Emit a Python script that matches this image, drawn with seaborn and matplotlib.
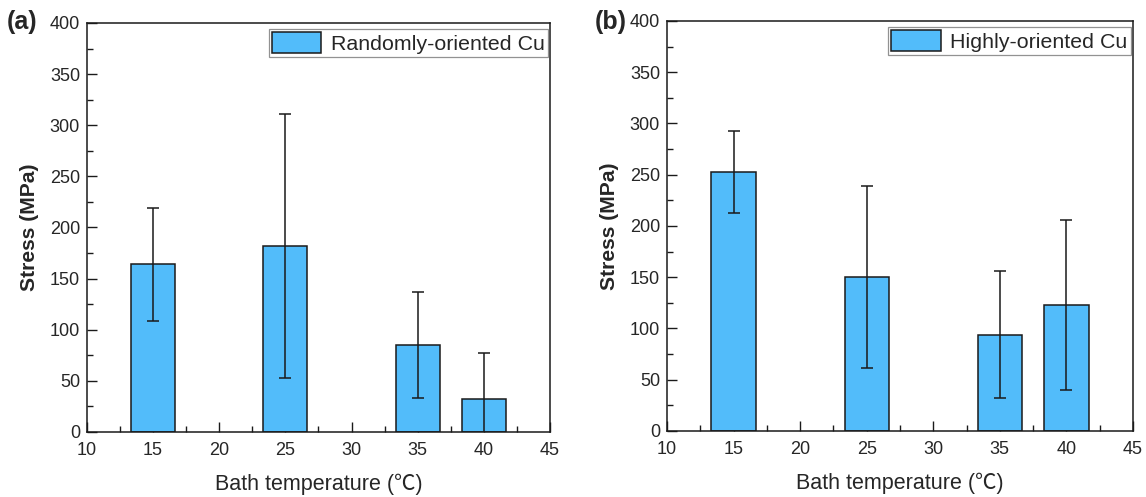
import numpy as np
import seaborn as sns
import matplotlib.pyplot as plt
from matplotlib.ticker import MultipleLocator

temps = [15, 25, 35, 40]
stress_random = [164, 182, 85, 32]
err_random = [55, 129, 52, 45]
stress_high = [253, 150, 94, 123]
err_high = [40, 89, 62, 83]
labels = ['Randomly-oriented Cu', 'Highly-oriented Cu']
panels = ['(a)', '(b)']

sns.set_style('white')
plt.rcParams['font.family'] = ['Liberation Sans', 'Noto Sans CJK SC', 'DejaVu Sans']

bar_color = '#52bcfa'

fig = plt.figure(figsize=(11.46, 4.97), dpi=100)
ax_a = fig.add_axes([0.0759, 0.1308, 0.404, 0.823])
ax_b = fig.add_axes([0.582, 0.1328, 0.4066, 0.825])

data = [(stress_random, err_random), (stress_high, err_high)]
panel_x = [0.006, 0.519]

for ax, (vals, errs), lab, pan, px in zip([ax_a, ax_b], data, labels, panels, panel_x):
    sns.barplot(x=temps, y=vals, native_scale=True, width=0.666, color=bar_color,
                edgecolor='#1a1a1a', linewidth=1.1, saturation=1, ax=ax, label=lab, zorder=2)
    ax.errorbar(temps, vals, yerr=errs, fmt='none', ecolor='#1a1a1a',
                elinewidth=1.1, capsize=4, capthick=1.1, zorder=3)
    ax.set_xlim(10, 45)
    ax.set_ylim(0, 400)
    ax.xaxis.set_major_locator(MultipleLocator(5))
    ax.xaxis.set_minor_locator(MultipleLocator(2.5))
    ax.yaxis.set_major_locator(MultipleLocator(50))
    ax.yaxis.set_minor_locator(MultipleLocator(25))
    ax.tick_params(which='both', direction='in', top=False, right=False,
                   bottom=True, left=True, color='#1a1a1a', width=1.0)
    ax.tick_params(which='major', length=7, labelsize=13)
    ax.tick_params(axis='x', which='major', pad=7)
    ax.tick_params(axis='y', which='major', pad=5)
    ax.tick_params(which='minor', length=4)
    for sp in ax.spines.values():
        sp.set_color('#1a1a1a')
        sp.set_linewidth(1.1)
    ax.set_xlabel('Bath temperature (℃)', fontsize=15.5, labelpad=11)
    ax.set_ylabel('Stress (MPa)', fontsize=15.2, fontweight='bold', labelpad=8)
    leg = ax.legend(loc='upper right', bbox_to_anchor=(0.995, 0.985), fontsize=15.4,
                    fancybox=False, frameon=True, edgecolor='#777777',
                    borderaxespad=0, handlelength=2.3, handleheight=1.1,
                    borderpad=0.15, handletextpad=0.45)
    leg.get_frame().set_linewidth(0.9)
    fig.text(px, 0.956, pan, fontsize=18, fontweight='bold', va='center', ha='left')

fig.savefig('out.png', dpi=100)
